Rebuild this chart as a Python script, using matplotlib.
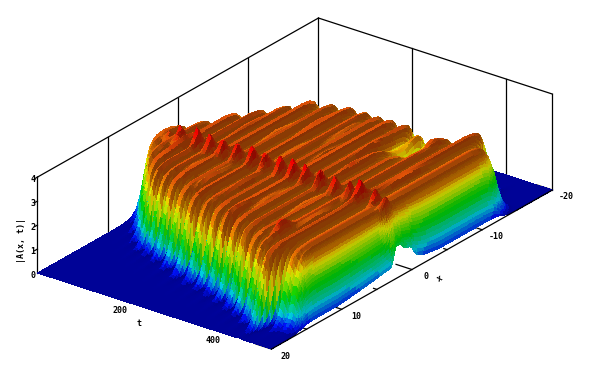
import numpy as np
import matplotlib
matplotlib.use("Agg")
import matplotlib.pyplot as plt
from matplotlib.colors import LinearSegmentedColormap
from mpl_toolkits.mplot3d import proj3d

# Values. The surface is composed from these readings,
# it is an approximation of the shape and not the original simulation grid.
t_ticks = [200, 400]
t_tick_labels = ["200", "400"]
x_ticks = [20, 10, 0, -10, -20]
x_tick_labels = ["20", "10", "0", "-10", "-20"]
x_minor_ticks = [15, 5, -5, -15]
z_ticks = [0, 1, 2, 3, 4]
z_tick_labels = ["0", "1", "2", "3", "4"]

ridge_t = [8, 31, 57, 83, 106, 132, 164, 199, 229, 258, 285, 315, 344, 372, 400, 431, 466]
ridge_z = [3.0, 3.05, 3.1, 3.1, 3.05, 3.1, 3.05, 3.1, 3.05, 3.05, 3.1, 3.05, 3.05, 3.0, 3.05, 3.1, 3.0]
trough_t = [20, 44, 70, 95, 119, 148, 182, 214, 244, 272, 300, 330, 358, 386, 416, 450]
trough_z = [2.7, 2.75, 2.75, 2.7, 2.75, 2.7, 2.75, 2.7, 2.75, 2.7, 2.75, 2.7, 2.7, 2.7, 2.7, 2.75]

left_t = [0, 40, 80, 130, 192, 273, 350, 407, 431, 450, 476, 500]
left_x = [5.0, 8.0, 10.0, 11.0, 12.5, 13.5, 15.0, 16.5, 17.5, 16.5, 15.5, 16.0]
right_t = [0, 31, 57, 83, 104, 132, 164, 199, 229, 285, 315, 344, 393, 415, 430, 450, 465, 500]
right_x = [-1, -3.5, -6, -8, -10, -12, -12.7, -13, -13.2, -13, -13.2, -12.8, -12.6, -14, -15.5, -15, -13.5, -13]

side_dist = [-4, -3, -2, -1.5, -1, -0.5, 0, 0.5, 1, 1.5, 2, 3]
side_frac = [0, 0.005, 0.02, 0.05, 0.11, 0.23, 0.45, 0.7, 0.87, 0.95, 0.98, 1]
front_dist = [0, 4, 8, 12, 16, 22, 30]
front_frac = [0.08, 0.28, 0.52, 0.72, 0.88, 0.97, 1]
scallop_in = [0, 0.25, 0.5, 0.75, 1]
scallop_out = [0, 0.08, 0.5, 0.92, 1]

rim_x = [17.4, 10.3, 5.7, 4, 2.9, 2.3, 1.7, 1, 0.1, -0.6, -1.9, -4, -8.3, -12.6, -14.7]
rim_z = [0, 0, 0.2, 0.3, 0.35, 1.2, 1.2, 0.9, 0.8, 0.3, 0.1, 0, 0, 0, 0]

spike_t = [20, 45, 81, 109, 137, 167, 199, 226, 259, 286, 312, 344, 376, 408, 429, 461, 483, 492]
spike_x = [2.7] * 18
spike_h = [0.6, 0.7, 0.7, 0.7, 0.7, 0.7, 0.7, 0.7, 0.7, 0.7, 0.7, 0.7, 0.7, 0.7, 0.6, 0.7, 0.7, 0.7]
patch_t = [358, 394, 390, 50, 425]
patch_x = [-8.8, 11.7, -10, 3, 3]
patch_h = [-0.9, 0.5, 0.5, 0.2, 0.2]
patch_wt = [45, 18, 14, 25, 20]
patch_wx = [4, 2, 2, 3, 3]
streak_t = [190, 243, 321, 100, 150, 215, 270, 340, 120, 175, 235, 300, 360, 410, 290, 440]
streak_x = [-7, -8, -6, -3, -4, -2, -3, -2, 6, 7, 6, 7, 6, 8, 12, -3]
bump_r = [0, 0.35, 0.7, 1]
bump_f = [1, 0.55, 0.15, 0]

color_z = [0, 0.3, 0.8, 1.6, 2.35, 2.7, 3.0, 3.7]
color_rgb = ["#000080", "#0010f0", "#00c8e0", "#00d000", "#e6e600", "#e88000", "#e05a08", "#f00000"]
AXIS_LENS = (293.6, 465.3, 106.2)


def build_surface():
    t_grid = np.concatenate([np.arange(0, 468, 3.0), np.arange(468, 501, 1.0)])
    x_grid = np.arange(-20, 20.01, 0.25)
    T, X = np.meshgrid(t_grid, x_grid, indexing="ij")

    knots = np.array(ridge_t + trough_t)
    heights = np.array(ridge_z + trough_z)
    order = np.argsort(knots)
    top = np.interp(T, knots[order], heights[order])
    crest = np.interp(T, knots[order], (heights[order] > 2.9).astype(float))
    crest = np.interp(crest, scallop_in, scallop_out)

    left = np.interp(T, left_t, left_x) - 2.0 * (1 - crest)
    right = np.interp(T, right_t, right_x) + 1.2 * (1 - crest)
    Z = top * np.interp(left - X, side_dist, side_frac) * np.interp(X - right, side_dist, side_frac)

    for t0, x0, h in zip(spike_t, spike_x, spike_h):
        r = np.hypot((T - t0) / 10, (X - x0) / 1.2)
        Z += h * np.interp(r, bump_r, bump_f)
    for t0, x0, h, wt, wx in zip(patch_t, patch_x, patch_h, patch_wt, patch_wx):
        r = np.hypot((T - t0) / wt, (X - x0) / wx)
        Z += h * np.interp(r, bump_r, bump_f)
    for t0, x0 in zip(streak_t, streak_x):
        r = np.hypot((T - t0) / 7, (X - x0) / 5)
        Z += 0.2 * np.interp(r, bump_r, bump_f)

    front = np.interp(500 - T, front_dist, front_frac)
    rim = np.interp(X, rim_x[::-1], rim_z[::-1])
    Z = Z * front + rim * (1 - front)
    return T, X, Z


def face_colors(T, X, Z):
    cmap = LinearSegmentedColormap.from_list(
        "bands", [(z / color_z[-1], c) for z, c in zip(color_z, color_rgb)], N=256
    )
    band = np.floor(Z / 0.125) * 0.125 + 0.06
    rgba = cmap(np.clip(band / color_z[-1], 0, 1))

    dz_dt = np.gradient(Z, T[:, 0], axis=0) * (AXIS_LENS[2] / 4) / (AXIS_LENS[0] / 500)
    dz_dx = np.gradient(Z, X[0, :], axis=1) * (AXIS_LENS[2] / 4) / (AXIS_LENS[1] / 40)
    norm = np.sqrt(dz_dt**2 + dz_dx**2 + 1)
    light = np.array([-0.55, 0.45, 0.7])
    dot = (-dz_dt * light[0] - dz_dx * light[1] + light[2]) / norm / np.linalg.norm(light)
    # the walls keep their band colours, only the top of the plateau gets strong light and dark
    low = np.clip(0.92 + 0.13 * dot, 0.75, 1.05)
    high = np.clip(0.45 + 0.7 * dot, 0.6, 1.0)
    weight = np.interp(Z, [2.4, 2.85], [0, 1])
    shade = low * (1 - weight) + high * weight
    rgba[..., :3] = np.clip(rgba[..., :3] * shade[..., None], 0, 1)
    return rgba


def label_at(fig, ax, t, x, z, text, **kw):
    px, py, _ = proj3d.proj_transform(t, x, z, ax.get_proj())
    sx, sy = ax.transData.transform((px, py))
    fig.text(sx / fig.bbox.width, sy / fig.bbox.height, text, family="DejaVu Sans Mono",
             fontsize=6, fontweight="bold", ha="center", va="center", **kw)


def main():
    fig = plt.figure(figsize=(5.91, 3.67), dpi=100)
    ax = fig.add_axes([-64.5 / 591, -176 / 367, 700 / 591, 700 / 367], projection="3d", computed_zorder=False)
    ax.set_proj_type("ortho")
    ax.view_init(elev=25.4, azim=-52.85)
    ax.set_box_aspect(AXIS_LENS, zoom=0.777)
    ax.set_xlim(0, 500)
    ax.set_ylim(20, -20)
    ax.set_zlim(0, 4)
    ax.set_axis_off()

    line = dict(color="black", lw=0.9, zorder=1)
    # box lines behind the surface
    ax.plot([0, 0], [20, -20], [4, 4], **line)
    ax.plot([0, 500], [-20, -20], [4, 4], **line)
    ax.plot([0, 0], [20, 20], [0, 4], **line)
    for x in x_ticks[1:]:
        ax.plot([0, 0], [x, x], [0, 4], **line)
    for t in t_ticks + [500]:
        ax.plot([t, t], [-20, -20], [0, 4], **line)
    for x in x_ticks:
        ax.plot([500, 466], [x, x], [0, 0], **line)
    for x in x_minor_ticks:
        ax.plot([500, 493], [x, x], [0, 0], **line)

    T, X, Z = build_surface()
    ax.plot_surface(T, X, Z, rstride=1, cstride=1, facecolors=face_colors(T, X, Z),
                    shade=False, linewidth=0, antialiased=False, zorder=2)

    front_line = dict(color="black", lw=0.9, zorder=3)
    ax.plot([500, 500], [20, -20], [0, 0], **front_line)
    for z in z_ticks[1:]:
        ax.plot([0, 0], [20, 20.4], [z, z], **front_line)

    fig.canvas.draw()
    for t, label in zip(t_ticks, t_tick_labels):
        label_at(fig, ax, t, 21.6, -0.02, label)
    for x, label in zip(x_ticks, x_tick_labels):
        label_at(fig, ax, 530, x, -0.1, label)
    for z, label in zip(z_ticks, z_tick_labels):
        label_at(fig, ax, 0, 20.7, z, label)
    label_at(fig, ax, 255, 22.6, -0.05, "t")
    label_at(fig, ax, 540, -1.3, -0.35, "x", rotation=30)
    label_at(fig, ax, 0, 22.3, 1.75, "|A(x, t)|", rotation=90)

    fig.savefig("out.png", dpi=100)


if __name__ == "__main__":
    main()
